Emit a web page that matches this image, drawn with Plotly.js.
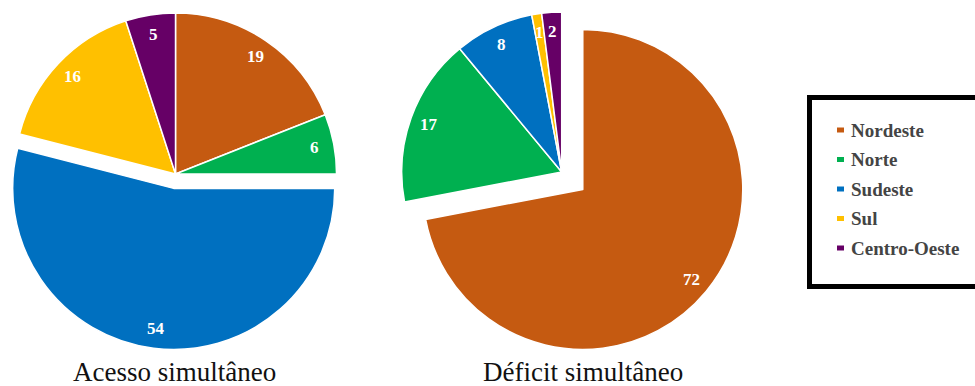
<!DOCTYPE html>
<html><head><meta charset="utf-8">
<script src="https://cdn.plot.ly/plotly-3.0.1.min.js"></script>
<style>
html,body{margin:0;padding:0;overflow:hidden;background:#fff;width:975px;height:386px}
#chart{width:975px;height:416px;margin-top:-30px}
</style>
</head><body><div id="chart"></div>
<script>
// ---- data ----
const regions = ['Nordeste', 'Norte', 'Sudeste', 'Sul', 'Centro-Oeste'];
const colors = ['#C55A11', '#00B050', '#0070C0', '#FFC000', '#660066'];
const acessoValues = [19, 6, 54, 16, 5];
const deficitValues = [72, 17, 8, 1, 2];
const acessoPull = [0, 0, 0.09, 0, 0];
const deficitPull = [0.171, 0, 0, 0, 0];
const chartTitles = ['Acesso simultâneo', 'Déficit simultâneo'];

// ---- layout geometry ----
const W = 975, H = 416, SHIFT = 30;
const SERIF = 'Liberation Serif';
function makeDomain(cx, cy, r, pulls) {
  const h = r * (1 + Math.max(...pulls));
  return {
    x: [Math.max(0, (cx - h) / W), Math.min(1, (cx + h) / W)],
    y: [Math.max(0, 1 - (cy + SHIFT + h) / H), Math.min(1, 1 - (cy + SHIFT - h) / H)]
  };
}
function pieGeom(d, pulls) {
  const bw = W * (d.x[1] - d.x[0]), bh = H * (d.y[1] - d.y[0]);
  const r = Math.min(bw, bh) / 2 / (1 + Math.max(...pulls));
  return { r: r, cx: W * (d.x[0] + d.x[1]) / 2, cy: H * (1 - d.y[0]) - bh / 2 };
}
const domA = makeDomain(175, 174, 161.5, acessoPull);
const domD = makeDomain(561.7, 172, 160, deficitPull);
const gA = pieGeom(domA, acessoPull);
const gD = pieGeom(domD, deficitPull);

function pieTrace(vals, pulls, dom) {
  return {
    type: 'pie', labels: regions, values: vals, pull: pulls, domain: dom,
    sort: false, direction: 'clockwise', rotation: 0,
    marker: { colors: colors, line: { color: '#ffffff', width: 1.5 } },
    textinfo: 'none', hoverinfo: 'label+value', showlegend: false
  };
}

const annotations = [];
const K = 0.88;
function addLabels(vals, pulls, g) {
  const total = vals.reduce((a, b) => a + b, 0);
  let cum = 0;
  vals.forEach((v, i) => {
    const mid = 2 * Math.PI * (cum + v / 2) / total;
    cum += v;
    const rr = (pulls[i] + K) * g.r;
    annotations.push({
      xref: 'paper', yref: 'paper',
      x: (g.cx + rr * Math.sin(mid)) / W,
      y: 1 - (g.cy - rr * Math.cos(mid)) / H,
      text: '<b>' + v + '</b>', showarrow: false, xanchor: 'center', yanchor: 'middle',
      font: { family: SERIF, size: 17, color: '#ffffff' }
    });
  });
}
addLabels(acessoValues, acessoPull, gA);
addLabels(deficitValues, deficitPull, gD);

// titles
function sliceOffsetX(vals, pulls, g, idx) {
  const total = vals.reduce((a, b) => a + b, 0);
  let cum = 0; for (let i = 0; i < idx; i++) cum += vals[i];
  const mid = 2 * Math.PI * (cum + vals[idx] / 2) / total;
  return pulls[idx] * g.r * Math.sin(mid);
}
const titleY = 1 - (372 + SHIFT) / H;
[[gA.cx - 1, chartTitles[0]], [gD.cx + sliceOffsetX(deficitValues, deficitPull, gD, 0), chartTitles[1]]].forEach(t => {
  annotations.push({
    xref: 'paper', yref: 'paper', x: t[0] / W, y: titleY, text: t[1], showarrow: false,
    xanchor: 'center', yanchor: 'middle',
    font: { family: SERIF, size: 27, color: '#111111' }
  });
});

// legend (manual)
const shapes = [];
const legTop = 97.5, legBottom = 286.5, legLeft = 809.5;
shapes.push({
  type: 'rect', xref: 'paper', yref: 'paper',
  x0: legLeft / W, x1: 1.03, y0: 1 - (legBottom + SHIFT) / H, y1: 1 - (legTop + SHIFT) / H,
  line: { color: '#000000', width: 5 }, fillcolor: 'rgba(0,0,0,0)'
});
regions.forEach((name, i) => {
  const yc = 130 + 29.5 * i + SHIFT;
  shapes.push({
    type: 'rect', xref: 'paper', yref: 'paper',
    x0: 837 / W, x1: 844 / W, y0: 1 - (yc + 2.5) / H, y1: 1 - (yc - 2.5) / H,
    line: { width: 0 }, fillcolor: colors[i]
  });
  annotations.push({
    xref: 'paper', yref: 'paper', x: 849 / W, y: 1 - yc / H, text: '<b>' + name + '</b>', showarrow: false,
    xanchor: 'left', yanchor: 'middle',
    font: { family: SERIF, size: 19, color: '#444444' }
  });
});

const layout = {
  width: W, height: H, margin: { l: 0, r: 0, t: 0, b: 0 },
  paper_bgcolor: '#ffffff', showlegend: false,
  font: { family: SERIF },
  annotations: annotations, shapes: shapes
};
Plotly.newPlot('chart', [pieTrace(acessoValues, acessoPull, domA), pieTrace(deficitValues, deficitPull, domD)], layout, { displayModeBar: false, staticPlot: true });
</script>
</body></html>
